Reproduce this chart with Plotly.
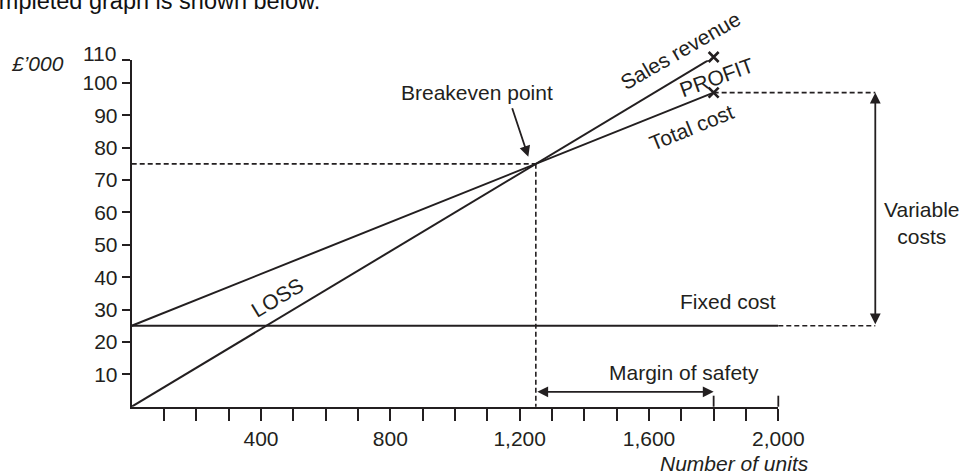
import plotly.graph_objects as go

# ---------------- data (units, £'000) ----------------
units_line = [0, 1800]
sales_revenue = [0, 108]
total_cost = [25, 97]
fixed_units = [0, 2000]
fixed_cost = [25, 25]
breakeven_units = 1250
breakeven_value = 75
margin_end_units = 1800
variable_arrow_units = 2300
variable_top = 97
variable_bottom = 25

x_ticks = list(range(100, 2001, 100))
x_labelled = {400: "400", 800: "800", 1200: "1,200", 1600: "1,600", 2000: "2,000"}
x_tick_text = [x_labelled.get(v, "") for v in x_ticks]
y_ticks = [10, 20, 30, 40, 50, 60, 70, 80, 90, 100, 107]
y_tick_text = ["10", "20", "30", "40", "50", "60", "70", "80", "90", "100", ""]
y_top_label = "110"

# ---------------- geometry / style ----------------
W, H = 962, 475
X0, SX = 131.7, 646.6 / 2000      # pixel of 0 units, px per unit
Y0, SY = 406.7, 3.2378            # pixel of 0 £'000, px per £'000
YTOP = 107
INK = "#231f20"
FONT = "Liberation Sans, Arial, Helvetica, sans-serif"
FS = 21
DASH = "5px,3px"

fig = go.Figure()

# main lines (axis 1)
fig.add_trace(go.Scatter(x=units_line, y=sales_revenue, mode="lines",
                         line=dict(color=INK, width=2), xaxis="x", yaxis="y"))
fig.add_trace(go.Scatter(x=units_line, y=total_cost, mode="lines",
                         line=dict(color=INK, width=2), xaxis="x", yaxis="y"))
fig.add_trace(go.Scatter(x=fixed_units, y=fixed_cost, mode="lines",
                         line=dict(color=INK, width=2), xaxis="x", yaxis="y"))

# dashed guides (axis 2, full canvas)
fig.add_trace(go.Scatter(
    x=[0, breakeven_units, None, breakeven_units, breakeven_units, None,
       margin_end_units, variable_arrow_units, None, fixed_units[-1], variable_arrow_units],
    y=[breakeven_value, breakeven_value, None, breakeven_value, 0, None,
       total_cost[-1], total_cost[-1], None, fixed_cost[-1], fixed_cost[-1]],
    mode="lines", line=dict(color=INK, width=1.6, dash=DASH),
    xaxis="x2", yaxis="y2"))

# end markers
fig.add_trace(go.Scatter(x=[units_line[-1], units_line[-1]],
                         y=[sales_revenue[-1], total_cost[-1]], mode="markers",
                         marker=dict(symbol="x-thin", size=10, color=INK,
                                     line=dict(color=INK, width=2.6)),
                         cliponaxis=False, xaxis="x2", yaxis="y2"))

shapes = []
for xv in [margin_end_units, fixed_units[-1]]:
    shapes.append(dict(type="line", xref="x2", yref="y2", ysizemode="pixel",
                       yanchor=0, x0=xv, x1=xv, y0=0, y1=11,
                       line=dict(color=INK, width=1.8)))

ann = []
def label(text, x, y, angle=0, size=FS, style="normal", xanchor="center"):
    ann.append(dict(text=text, x=x, y=y, xref="x2", yref="y2", showarrow=False,
                    textangle=angle, xanchor=xanchor, yanchor="middle",
                    font=dict(family=FONT, size=size, color=INK, style=style)))

def arrow(x, y, ax, ay, both=False):
    ann.append(dict(text="", x=x, y=y, ax=ax, ay=ay, xref="x2", yref="y2",
                    axref="x2", ayref="y2", showarrow=True, arrowhead=2,
                    arrowsize=1.2, arrowwidth=1.8, arrowcolor=INK,
                    arrowside="end+start" if both else "end"))

px2u = lambda px: (px - X0) / SX
py2v = lambda py: (Y0 - py) / SY

# clipped caption line at the very top (paper coords so it is not hidden)
ann.append(dict(text="completed graph is shown below.", x=322 / W, y=(H - 0.5) / H,
                xref="paper", yref="paper", showarrow=False, xanchor="right",
                yanchor="middle", font=dict(family=FONT, size=23.5, color="#111111")))

label("£’000", px2u(37.5), py2v(63.5), style="italic")
label(y_top_label, px2u(118), py2v(53.7), xanchor="right")
label("Breakeven point", px2u(476.7), py2v(92))
label("Sales revenue", px2u(680), py2v(50), angle=-30)
label("PROFIT", px2u(716), py2v(77), angle=-20)
label("Total cost", px2u(691), py2v(127), angle=-22)
label("LOSS", px2u(277), py2v(297), angle=-31)
label("Fixed cost", px2u(728), py2v(301))
label("Margin of safety", px2u(684), py2v(372))
label("Variable<br>costs", px2u(922), py2v(223))
label("Number of units", px2u(734), py2v(463.5), style="italic")

arrow(px2u(528.3), py2v(156.7), px2u(511.7), py2v(106.7))
arrow(margin_end_units, 4.6, breakeven_units, 4.6, both=True)
arrow(variable_arrow_units, variable_top, variable_arrow_units, variable_bottom, both=True)

tickfont = dict(family=FONT, size=FS, color=INK)
fig.update_layout(
    template="none",
    width=W, height=H, autosize=False,
    margin=dict(l=0, r=0, t=0, b=0, pad=0),
    paper_bgcolor="white", plot_bgcolor="rgba(0,0,0,0)",
    showlegend=False,
    xaxis=dict(domain=[X0 / W, (X0 + 2000 * SX) / W], range=[0, 2000], automargin=False,
               showline=True, linecolor=INK, linewidth=2, showgrid=False, zeroline=False,
               ticks="outside", ticklen=12, tickwidth=1.8, tickcolor=INK,
               tickvals=x_ticks, ticktext=x_tick_text, tickfont=tickfont,
               anchor="y", fixedrange=True),
    yaxis=dict(domain=[(H - Y0) / H, (H - (Y0 - YTOP * SY)) / H], range=[0, YTOP],
               automargin=False,
               showline=True, linecolor=INK, linewidth=2, showgrid=False, zeroline=False,
               ticks="outside", ticklen=8, tickwidth=1.8, tickcolor=INK,
               tickvals=y_ticks, ticktext=y_tick_text, tickfont=tickfont,
               anchor="x", fixedrange=True),
    xaxis2=dict(domain=[0, 1], range=[-X0 / SX, (W - X0) / SX], visible=False,
                automargin=False, anchor="y2", fixedrange=True),
    yaxis2=dict(domain=[0, 1], range=[(Y0 - H) / SY, Y0 / SY], visible=False,
                automargin=False, anchor="x2", fixedrange=True),
    shapes=shapes, annotations=ann,
)

fig.write_html(
    "out.html",
    config={"responsive": False, "displayModeBar": False},
    post_script="document.body.style.margin='0';"
                "document.documentElement.style.overflow='hidden';"
                "document.body.style.overflow='hidden';",
)
